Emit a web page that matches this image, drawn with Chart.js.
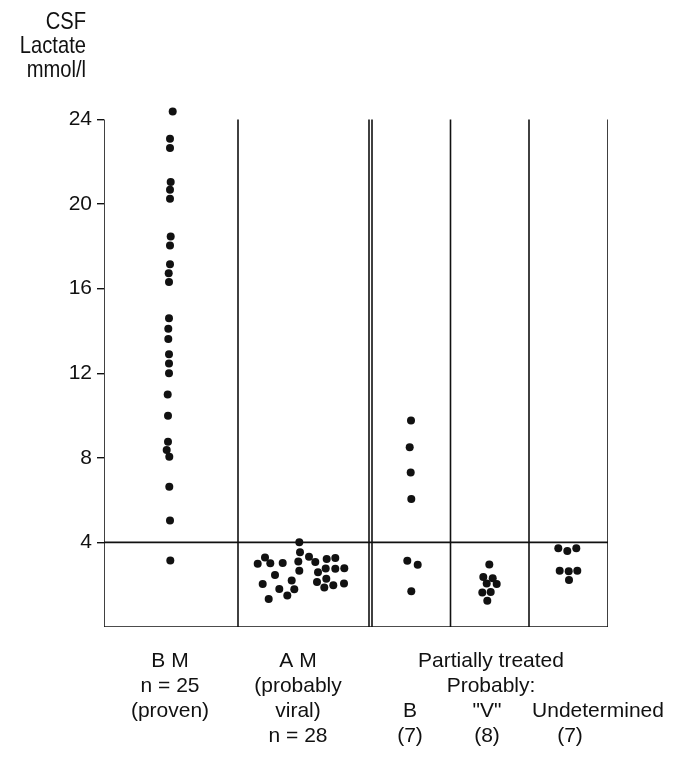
<!DOCTYPE html>
<html>
<head>
<meta charset="utf-8">
<script src="https://cdn.jsdelivr.net/npm/chart.js@4"></script>
<style>
  body { margin: 0; background: #fff; }
  #contenedor { position: relative; width: 679px; height: 764px; }
</style>
</head>
<body>
<div id="contenedor"><canvas id="grafico"></canvas></div>
<script>
// Datos (lactato en mmol/l, x = posicion dentro de la columna)
const yTicks = [4, 8, 12, 16, 20, 24];
const corte = 4;
const techo = 24;
const yMax = 25.3;
const xMax = 504;
const divisiones = [134, 265, 268, 346.5, 425, 504];

const bmValores = [24.38, 23.09, 22.65, 21.04, 20.68, 20.25, 18.47, 18.04, 17.16, 16.73, 16.32, 14.60, 14.11,
    13.62, 12.90, 12.46, 12.0, 10.99, 9.99, 8.76, 8.37, 8.05, 6.63, 5.04, 3.15];
const bmX = [68.7, 66, 66, 66.7, 66, 66, 66.7, 66, 66, 64.7, 65, 65, 64.3, 64.3, 65, 65, 65, 63.7, 64, 64, 62.7,
    65.3, 65.3, 66, 66.3];

const amValores = [4.01, 3.53, 3.29, 3.32, 3.22, 3.26, 2.99, 3.02, 3.03, 3.10, 3.07, 2.77, 2.75, 2.78, 2.66, 2.59,
    2.46, 2.20, 2.28, 2.03, 2.13, 1.87, 1.98, 2.06, 1.80, 1.78, 1.49, 1.32];
const amX = [195.3, 196, 161, 205, 222.7, 231.3, 153.7, 166.3, 178.7, 194.3, 211.3, 221.7, 231.3, 240.3, 195.3,
    214, 171, 187.7, 222.3, 158.7, 213, 220.3, 229.3, 240, 175.3, 190.3, 183.3, 164.7];

const bValores = [9.76, 8.50, 7.31, 6.05, 3.13, 2.94, 1.69];
const bX = [307, 305.7, 306.7, 307.3, 303.3, 313.7, 307.3];

const vValores = [2.96, 2.36, 2.30, 2.06, 2.03, 1.63, 1.65, 1.24];
const vX = [385.3, 379.3, 388.7, 382.7, 392.7, 378.3, 386.7, 383.3];

const uValores = [3.72, 3.59, 3.72, 2.66, 2.64, 2.66, 2.22];
const uX = [454.3, 463.3, 472.3, 455.7, 464.7, 473.3, 465];

const titulo = ['CSF', 'Lactate', 'mmol/l'];
const etiquetas = [
    { x: 66, lineas: ['B M', 'n = 25', '(proven)'] },
    { x: 194, lineas: ['A M', '(probably', 'viral)', 'n = 28'] },
    { x: 387, lineas: ['Partially treated', 'Probably:'] },
    { x: 306, fila: 2, lineas: ['B', '(7)'] },
    { x: 383, fila: 2, lineas: ['"V"', '(8)'] },
    { x: 494, fila: 2, lineas: ['Undetermined'] },
    { x: 466, fila: 3, lineas: ['(7)'] }
];

const tinta = '#111';
const fuente = '"Liberation Sans", Arial, sans-serif';

function puntos(xs, ys) {
    return xs.map((x, i) => ({ x: x, y: ys[i] }));
}

function linea(x1, y1, x2, y2) {
    return {
        data: [{ x: x1, y: y1 }, { x: x2, y: y2 }],
        showLine: true,
        borderColor: tinta,
        borderWidth: 1.6,
        pointRadius: 0,
        pointHoverRadius: 0
    };
}

function serie(xs, ys) {
    return {
        data: puntos(xs, ys),
        backgroundColor: tinta,
        borderColor: tinta,
        pointRadius: 4,
        pointBorderWidth: 0,
        showLine: false
    };
}

// Marco: eje, base, linea de 4 mmol/l y separadores
const marco = [
    linea(0, 0, 0, techo),
    linea(0, 0, xMax, 0),
    linea(0, corte, xMax, corte)
];
divisiones.forEach(d => marco.push(linea(d, 0, d, techo)));

// Textos del titulo y de las columnas
const textos = {
    id: 'textos',
    afterDraw(chart) {
        const ctx = chart.ctx;
        const escalaX = chart.scales.x;
        const abajo = chart.chartArea.bottom;
        ctx.save();
        ctx.fillStyle = tinta;
        ctx.textBaseline = 'middle';

        // titulo algo estrecho, como en el original
        ctx.save();
        ctx.font = '24px ' + fuente;
        ctx.textAlign = 'right';
        ctx.translate(86, 0);
        ctx.scale(0.84, 1);
        titulo.forEach((t, i) => ctx.fillText(t, 0, 22 + i * 24));
        ctx.restore();

        ctx.font = '21px ' + fuente;
        ctx.textAlign = 'center';
        etiquetas.forEach(e => {
            const px = escalaX.getPixelForValue(e.x);
            const fila = e.fila || 0;
            e.lineas.forEach((t, i) => ctx.fillText(t, px, abajo + 34 + (fila + i) * 25));
        });
        ctx.restore();
    }
};

new Chart(document.getElementById('grafico'), {
    type: 'scatter',
    data: {
        datasets: marco.concat([
            serie(bmX, bmValores),
            serie(amX, amValores),
            serie(bX, bValores),
            serie(vX, vValores),
            serie(uX, uValores)
        ])
    },
    options: {
        responsive: true,
        maintainAspectRatio: false,
        animation: false,
        layout: { padding: { top: 92, bottom: 137, right: 71, left: 0 } },
        plugins: {
            legend: { display: false },
            tooltip: { enabled: false }
        },
        scales: {
            x: { type: 'linear', min: 0, max: xMax, display: false },
            y: {
                type: 'linear',
                min: 0,
                max: yMax,
                border: { display: false },
                grid: { drawOnChartArea: false, color: tinta, lineWidth: 1.4, tickLength: 7 },
                ticks: { color: tinta, font: { family: fuente, size: 21 }, padding: 5 },
                afterBuildTicks: escala => { escala.ticks = yTicks.map(v => ({ value: v })); },
                afterFit: escala => { escala.width = 104; }
            }
        }
    },
    plugins: [textos]
});
</script>
</body>
</html>
